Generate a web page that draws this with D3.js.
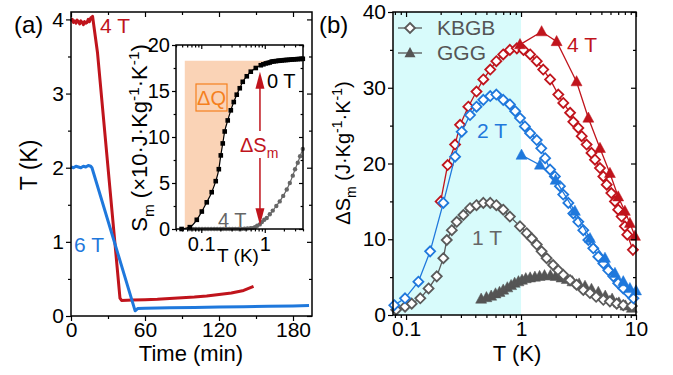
<!DOCTYPE html>
<html>
<head>
<meta charset="utf-8">
<script src="https://cdn.jsdelivr.net/npm/d3@7"></script>
<style>
  body { margin: 0; background: #fff; }
  text { font-family: "Liberation Sans", Arial, sans-serif; }
</style>
</head>
<body>
<svg id="chart" width="673" height="375"></svg>
<script>
// ---------- data, panel (a): cooling curves ----------
const timeRed = [0, 1, 2, 3, 4, 5, 6, 7, 8, 9, 10, 11, 12, 13, 14, 15, 16, 17.5, 21.5, 39.7, 41, 50, 60, 70, 80, 90, 100, 110, 120, 130, 140, 148];
const tempRed = [3.97, 4.0, 3.96, 3.98, 3.95, 3.99, 3.97, 3.94, 3.98, 3.96, 3.93, 3.97, 3.95, 3.96, 4.0, 3.97, 4.02, 4.04, 3.55, 0.24, 0.21, 0.215, 0.22, 0.225, 0.235, 0.245, 0.255, 0.27, 0.29, 0.31, 0.345, 0.40];
const timeBlue = [0, 2, 4, 6, 8, 10, 12, 14, 16, 17, 52, 54, 60, 80, 100, 120, 140, 160, 180, 193];
const tempBlue = [2.01, 2.0, 2.02, 2.01, 2.0, 2.02, 2.01, 2.03, 2.02, 2.0, 0.07, 0.10, 0.105, 0.11, 0.115, 0.12, 0.125, 0.13, 0.135, 0.14];

// ---------- data, inset: entropy ----------
const s0T_T = [0.049, 0.066, 0.085, 0.102, 0.122, 0.146, 0.169, 0.189, 0.203, 0.218, 0.234, 0.261, 0.292, 0.325, 0.362, 0.404, 0.45, 0.521, 0.602, 0.722, 0.865,
  0.95, 1.04, 1.12, 1.2, 1.29, 1.38, 1.5, 1.62, 1.72, 1.85, 2.0, 2.15, 2.3, 2.47, 2.65, 2.85, 3.05, 3.3, 3.55, 3.8, 3.97];
const s0T_S = [0, 0.2, 1.0, 1.9, 2.9, 4.0, 5.2, 6.5, 8.0, 9.3, 10.6, 11.8, 12.9, 13.8, 14.6, 15.3, 16.0, 16.6, 17.1, 17.5, 17.8,
  17.9, 18.0, 18.05, 18.1, 18.2, 18.22, 18.25, 18.28, 18.3, 18.32, 18.35, 18.37, 18.38, 18.4, 18.42, 18.44, 18.45, 18.47, 18.48, 18.5, 18.5];
const s4T_T = [0.066, 0.074, 0.082, 0.092, 0.103, 0.115, 0.128, 0.143, 0.16, 0.178, 0.2, 0.222, 0.248, 0.277, 0.31, 0.345, 0.385, 0.43, 0.48, 0.535, 0.6,
  0.647, 0.7, 0.76, 0.834, 0.9, 0.98, 1.075, 1.2, 1.336, 1.52, 1.72, 1.95, 2.22, 2.48, 2.76, 3.0, 3.31, 3.6, 3.97];
const s4T_S = [0, 0, 0, 0, 0, 0, 0, 0, 0, 0, 0, 0, 0, 0, 0, 0, 0, 0, 0.02, 0.05, 0.08,
  0.1, 0.2, 0.35, 0.5, 0.75, 1.0, 1.2, 1.6, 2.0, 2.5, 3.0, 3.6, 4.3, 5.0, 5.8, 6.5, 7.2, 7.9, 8.7];

// ---------- data, panel (b): entropy change ----------
const kb4T_T = [0.2, 0.23, 0.267, 0.295, 0.348, 0.41, 0.47, 0.54, 0.61, 0.70, 0.80, 0.92, 1.05, 1.2, 1.37, 1.56, 1.79, 2.11, 2.33, 2.67, 2.85, 3.15, 3.37, 3.72, 4.1, 4.4, 4.86, 5.2, 5.56, 6.1, 6.56, 7.0, 7.5, 8.0, 8.4, 9.4];
const kb4T_S = [15.0, 19.8, 22.5, 25.1, 27.5, 29.5, 31.1, 32.4, 33.5, 34.4, 35.0, 35.2, 35.0, 34.4, 33.5, 32.4, 31.1, 29.1, 28.0, 26.7, 25.5, 24.7, 23.6, 22.5, 21.4, 20.5, 19.4, 18.3, 17.2, 16.1, 15.0, 13.9, 13.0, 11.7, 10.6, 8.6];
const kb2T_T = [0.079, 0.098, 0.128, 0.162, 0.211, 0.267, 0.305, 0.36, 0.41, 0.47, 0.54, 0.61, 0.70, 0.80, 0.89, 0.98, 1.08, 1.2, 1.37, 1.5, 1.62, 1.79, 1.97, 2.18, 2.33, 2.58, 2.85, 3.15, 3.48, 3.85, 4.25, 4.7, 5.2, 5.74, 6.35, 7.0, 7.75, 8.6, 9.5];
const kb2T_S = [1.3, 2.2, 4.4, 8.4, 14.8, 20.9, 24.2, 26.4, 27.5, 28.4, 28.9, 29.1, 28.4, 27.8, 26.9, 26.0, 24.9, 24.0, 23.1, 22.0, 20.7, 19.2, 18.3, 17.0, 15.9, 14.8, 13.4, 12.3, 11.2, 9.9, 8.8, 7.7, 6.8, 5.9, 5.1, 4.2, 3.5, 2.9, 2.2];
const kb1T_T = [0.082, 0.098, 0.112, 0.133, 0.157, 0.185, 0.211, 0.226, 0.25, 0.276, 0.315, 0.36, 0.41, 0.47, 0.54, 0.61, 0.70, 0.80, 0.98, 1.12, 1.24, 1.37, 1.51, 1.67, 1.9, 2.11, 2.33, 2.67, 3.04, 3.48, 3.98, 4.5, 5.2, 5.93, 6.8, 7.75, 9.2];
const kb1T_S = [0.7, 1.1, 1.5, 2.2, 3.5, 5.1, 7.5, 9.9, 11.2, 12.3, 13.2, 14.1, 14.5, 14.8, 14.8, 14.5, 13.9, 13.0, 11.7, 10.8, 10.1, 9.3, 8.4, 7.5, 6.6, 5.9, 5.3, 4.6, 4.0, 3.3, 2.9, 2.4, 2.0, 1.8, 1.5, 1.3, 1.2];
const ggg4T_T = [0.98, 1.51, 2.04, 3.04, 3.85, 4.86, 5.93, 7.0, 8.0, 8.85, 9.8];
const ggg4T_S = [35.7, 37.4, 36.1, 30.8, 26.0, 22.0, 18.7, 15.6, 13.7, 12.1, 10.4];
const ggg2T_T = [1.01, 1.46, 2.0, 2.94, 3.98, 5.37, 6.56, 7.75, 8.85, 10];
const ggg2T_S = [21.1, 19.8, 17.8, 13.7, 10.1, 7.5, 5.5, 4.4, 3.5, 3.2];
const ggg1T_T = [0.45, 0.5, 0.55, 0.6, 0.65, 0.7, 0.76, 0.82, 0.88, 0.95, 1.02, 1.1, 1.2, 1.32, 1.45, 1.6, 1.8, 2.0, 2.25, 2.5, 2.8, 3.2, 3.6, 4.1, 4.7, 5.4, 6.2, 7.1, 8.1, 9.2];
const ggg1T_S = [2.1, 2.3, 2.5, 2.8, 3.0, 3.3, 3.6, 3.9, 4.2, 4.4, 4.6, 4.8, 4.9, 5.0, 5.1, 5.2, 5.2, 5.1, 4.9, 4.7, 4.4, 4.1, 3.8, 3.4, 3.0, 2.5, 2.1, 1.6, 1.2, 0.9];

const RED = '#c0141c', BLUE = '#1f78dc', GREY = '#5a5a5a', ORANGE = '#f5801e';

const svg = d3.select('#chart');
const zip = (xs, ys) => xs.map((x, i) => [x, ys[i]]);

// draws a boxed frame with outward major/minor ticks on left & bottom, inward mirrors on top & right
function frame(g, x, y, o) {
  const [x0, x1] = x.range(), [y0, y1] = y.range();
  const style = sel => {
    sel.select('.domain').remove();
    sel.selectAll('line').attr('stroke', '#000').attr('stroke-width', 1.2);
    sel.selectAll('text').attr('font-size', o.fs).attr('font-family', '"Liberation Sans", Arial, sans-serif').attr('fill', '#000');
  };
  g.append('g').attr('transform', `translate(0,${y0})`)
    .call(d3.axisBottom(x).tickValues(o.xMajor).tickFormat(o.xFmt).tickSize(o.tick).tickPadding(o.padB)).call(style);
  g.append('g').attr('transform', `translate(0,${y0})`)
    .call(d3.axisBottom(x).tickValues(o.xMinor).tickFormat('').tickSize(o.tick * 0.6)).call(style);
  g.append('g').attr('transform', `translate(${x0},0)`)
    .call(d3.axisLeft(y).tickValues(o.yMajor).tickFormat(o.yFmt).tickSize(o.tick).tickPadding(o.padL)).call(style);
  g.append('g').attr('transform', `translate(${x0},0)`)
    .call(d3.axisLeft(y).tickValues(o.yMinor).tickFormat('').tickSize(o.tick * 0.6)).call(style);
  g.append('g').attr('transform', `translate(0,${y1})`)
    .call(d3.axisTop(x).tickValues(o.xMajor).tickFormat('').tickSize(-o.tick)).call(style);
  g.append('g').attr('transform', `translate(0,${y1})`)
    .call(d3.axisTop(x).tickValues(o.xMinor).tickFormat('').tickSize(-o.tick * 0.6)).call(style);
  g.append('g').attr('transform', `translate(${x1},0)`)
    .call(d3.axisRight(y).tickValues(o.yMajor).tickFormat('').tickSize(-o.tick)).call(style);
  g.append('g').attr('transform', `translate(${x1},0)`)
    .call(d3.axisRight(y).tickValues(o.yMinor).tickFormat('').tickSize(-o.tick * 0.6)).call(style);
  g.append('rect').attr('x', x0).attr('y', y1).attr('width', x1 - x0).attr('height', y0 - y1)
    .attr('fill', 'none').attr('stroke', '#000').attr('stroke-width', 1.5);
}

function label(g, x, y, txt, size, color, anchor) {
  return g.append('text').attr('x', x).attr('y', y).attr('font-size', size)
    .attr('fill', color || '#000').attr('text-anchor', anchor || 'start').text(txt);
}

// rich text with sub/superscripts: parts = [[text, 'sub'|'sup'|null], ...]
function rich(t, parts, size) {
  let shift = 0;
  parts.forEach(([s, kind]) => {
    const target = kind === 'sub' ? size * 0.3 : kind === 'sup' ? -size * 0.38 : 0;
    t.append('tspan').attr('dy', target - shift).attr('font-size', kind ? size * 0.7 : size).text(s);
    shift = target;
  });
  return t;
}

const logMinor = (lo, hi) => {
  const out = [];
  for (let d = -3; d <= 2; d++) for (let k = 2; k <= 9; k++) {
    const v = k * Math.pow(10, d);
    if (v >= lo * 0.999 && v <= hi * 1.001) out.push(+v.toPrecision(3));
  }
  return out;
};

// ================= panel (a) =================
const ga = svg.append('g');
const xA = d3.scaleLinear().domain([0, 195.4]).range([71, 312]);
const yA = d3.scaleLinear().domain([0, 4.1]).range([316, 12]);

const lineA = d3.line().x(d => xA(d[0])).y(d => yA(d[1]));
ga.append('path').datum(zip(timeRed, tempRed)).attr('d', lineA)
  .attr('fill', 'none').attr('stroke', RED).attr('stroke-width', 3).attr('stroke-linejoin', 'round');
ga.append('path').datum(zip(timeBlue, tempBlue)).attr('d', lineA)
  .attr('fill', 'none').attr('stroke', BLUE).attr('stroke-width', 3).attr('stroke-linejoin', 'round');

frame(ga, xA, yA, {
  xMajor: [0, 60, 120, 180], xMinor: [30, 90, 150], yMajor: [0, 1, 2, 3, 4], yMinor: [0.5, 1.5, 2.5, 3.5],
  xFmt: d3.format('d'), yFmt: d3.format('d'), fs: 21, tick: 5, padB: 1, padL: 2
});

label(ga, 14, 33, '(a)', 24);
label(ga, 100, 33, '4 T', 21, RED);
label(ga, 74, 252, '6 T', 21, BLUE);
label(ga, 191, 361, 'Time (min)', 22, '#000', 'middle');
label(ga, 0, 0, 'T (K)', 23, '#000', 'middle').attr('transform', 'translate(37,165) rotate(-90)');

// ---------- inset ----------
const gi = svg.append('g');
const xI = d3.scaleLog().domain([0.04, 4]).range([176, 303]);
const yI = d3.scaleLinear().domain([0, 20]).range([229, 45]);
gi.append('rect').attr('x', 176).attr('y', 45).attr('width', 127).attr('height', 184).attr('fill', '#fff');

// ΔQ shaded area: between S = 18.3 and the 0 T curve
const qTop = 18.3;
const qPts = zip(s0T_T, s0T_S).filter(d => d[0] >= 0.055 && d[1] <= qTop);
gi.append('path')
  .datum([[0.055, 0], ...qPts, [1.3, qTop], [0.055, qTop]])
  .attr('d', d3.line().x(d => xI(d[0])).y(d => yI(d[1])))
  .attr('fill', '#fad3b6').attr('stroke', 'none');

const lineI = d3.line().x(d => xI(d[0])).y(d => yI(d[1])).curve(d3.curveMonotoneX);
gi.append('path').datum(zip(s4T_T, s4T_S)).attr('d', lineI).attr('fill', 'none').attr('stroke', '#666').attr('stroke-width', 1.2);
gi.selectAll('circle.g4').data(zip(s4T_T, s4T_S)).join('circle')
  .attr('cx', d => xI(d[0])).attr('cy', d => yI(d[1])).attr('r', 2.2).attr('fill', '#666');
gi.append('path').datum(zip(s0T_T, s0T_S)).attr('d', lineI).attr('fill', 'none').attr('stroke', '#000').attr('stroke-width', 1.2);
gi.selectAll('rect.b0').data(zip(s0T_T, s0T_S)).join('rect')
  .attr('x', d => xI(d[0]) - 2.3).attr('y', d => yI(d[1]) - 2.3).attr('width', 4.6).attr('height', 4.6).attr('fill', '#000');

frame(gi, xI, yI, {
  xMajor: [0.1, 1], xMinor: logMinor(0.04, 4), yMajor: [0, 5, 10, 15, 20], yMinor: [2.5, 7.5, 12.5, 17.5],
  xFmt: d => d === 1 ? '1' : '0.1', yFmt: d3.format('d'), fs: 20, tick: 4, padB: 4, padL: 2
});

// ΔSm double arrow
const ax = xI(0.84);
const arrowHead = (tipY, dir) => `M${ax},${tipY} L${ax - 4.5},${tipY + dir * 17} L${ax + 4.5},${tipY + dir * 17} Z`;
gi.append('line').attr('x1', ax).attr('x2', ax).attr('y1', 131).attr('y2', yI(17.1) + 12).attr('stroke', RED).attr('stroke-width', 1.5);
gi.append('path').attr('d', arrowHead(yI(17.1), 1)).attr('fill', RED);
gi.append('line').attr('x1', ax).attr('x2', ax).attr('y1', 158).attr('y2', yI(0.4) - 12).attr('stroke', RED).attr('stroke-width', 1.5);
gi.append('path').attr('d', arrowHead(yI(0.4), -1)).attr('fill', RED);
rich(label(gi, 240, 152, '', 20, RED), [['ΔS', null], ['m', 'sub']], 20);

gi.append('rect').attr('x', 196).attr('y', 84).attr('width', 31).attr('height', 27).attr('fill', 'none').attr('stroke', ORANGE).attr('stroke-width', 1.2);
label(gi, 211.5, 105, 'ΔQ', 20, ORANGE, 'middle');
label(gi, 267, 88, '0 T', 20, '#000');
label(gi, 218, 227, '4 T', 20, '#666');
label(gi, 238, 262, 'T (K)', 19, '#000', 'middle');
rich(label(gi, 0, 0, '', 22, '#000', 'middle').attr('transform', 'translate(147,138) rotate(-90)'),
  [['S', null], ['m', 'sub'], [' (×10·J·Kg', null], ['-1', 'sup'], ['·K', null], ['-1', 'sup'], [')', null]], 22);

// ================= panel (b) =================
const gb = svg.append('g');
const xB = d3.scaleLog().domain([0.077, 10]).range([393, 636]);
const yB = d3.scaleLinear().domain([0, 40]).range([315, 12]);

gb.append('rect').attr('x', xB(0.077)).attr('y', yB(40)).attr('width', xB(1) - xB(0.077)).attr('height', yB(0) - yB(40)).attr('fill', '#d8fbfb');

const lineB = d3.line().x(d => xB(d[0])).y(d => yB(d[1]));
const diamond = r => `M0,${-r}L${r},0L0,${r}L${-r},0Z`;
const triangle = r => `M0,${-r * 1.1}L${r},${r * 0.75}L${-r},${r * 0.75}Z`;

function series(g, T, S, color, kind, withLine) {
  const pts = zip(T, S);
  if (withLine) g.append('path').datum(pts).attr('d', lineB).attr('fill', 'none').attr('stroke', color).attr('stroke-width', 1.3);
  g.selectAll(null).data(pts).join('path')
    .attr('transform', d => `translate(${xB(d[0])},${yB(d[1])})`)
    .attr('d', kind === 'd' ? diamond(5) : triangle(5.5))
    .attr('fill', kind === 'd' ? '#fff' : color)
    .attr('stroke', color).attr('stroke-width', kind === 'd' ? 1.8 : 0.5);
}

series(gb, ggg1T_T, ggg1T_S, '#555', 't', false);
series(gb, kb1T_T, kb1T_S, GREY, 'd', true);
series(gb, kb4T_T, kb4T_S, RED, 'd', true);
series(gb, ggg4T_T, ggg4T_S, RED, 't', true);
series(gb, kb2T_T, kb2T_S, BLUE, 'd', true);
series(gb, ggg2T_T, ggg2T_S, BLUE, 't', true);

frame(gb, xB, yB, {
  xMajor: [0.1, 1, 10], xMinor: logMinor(0.077, 10), yMajor: [0, 10, 20, 30, 40], yMinor: [5, 15, 25, 35],
  xFmt: d => d >= 1 ? String(d) : '0.1', yFmt: d3.format('d'), fs: 21, tick: 5, padB: 1, padL: 2
});

// legend
const lg = gb.append('g');
lg.append('line').attr('x1', 398).attr('x2', 422).attr('y1', 28).attr('y2', 28).attr('stroke', GREY).attr('stroke-width', 1.3);
lg.append('path').attr('transform', 'translate(410,28)').attr('d', diamond(5)).attr('fill', '#fff').attr('stroke', GREY).attr('stroke-width', 1.8);
lg.append('line').attr('x1', 398).attr('x2', 422).attr('y1', 53).attr('y2', 53).attr('stroke', '#555').attr('stroke-width', 1.3);
lg.append('path').attr('transform', 'translate(410,53)').attr('d', triangle(5.5)).attr('fill', '#555');
label(lg, 437, 35, 'KBGB', 21, '#555');
label(lg, 437, 60, 'GGG', 21, '#555');

label(gb, 319, 33, '(b)', 24);
label(gb, 567, 52, '4 T', 21, RED);
label(gb, 477, 138, '2 T', 21, BLUE);
label(gb, 472, 245, '1 T', 21, '#666');
label(gb, 517, 361, 'T (K)', 22, '#000', 'middle');
rich(label(gb, 0, 0, '', 20, '#000', 'middle').attr('transform', 'translate(350,153) rotate(-90)'),
  [['ΔS', null], ['m', 'sub'], [' (J·Kg', null], ['-1', 'sup'], ['·K', null], ['-1', 'sup'], [')', null]], 20);
</script>
</body>
</html>
